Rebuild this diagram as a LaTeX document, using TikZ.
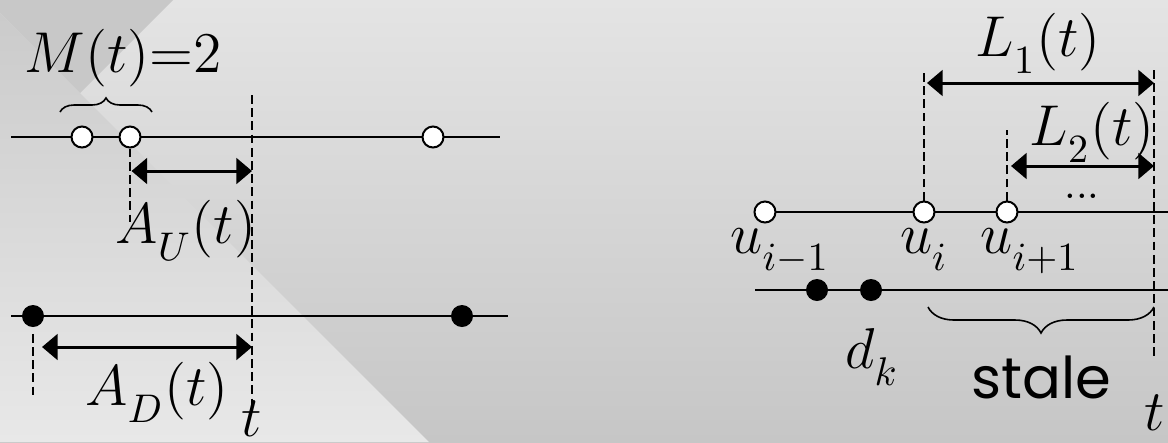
\documentclass[tikz,border=0pt]{standalone}
\usepackage{fontspec}
\newfontfamily\stalefont{Poppins}
\usetikzlibrary{arrows.meta,decorations.pathreplacing}

\definecolor{bgtop}{HTML}{E4E4E4}
\definecolor{bgbot}{HTML}{C6C6C6}
\definecolor{bgdark}{HTML}{C8C8C8}
\definecolor{wedgetop}{HTML}{CBCBCB}
\definecolor{wedgebot}{HTML}{E8E8E8}

% lowered subscript
\newcommand{\dn}[1]{_{\raisebox{-2.2pt}{$\scriptstyle #1$}}}

\begin{document}
\begin{tikzpicture}[x=0.25pt, y=-0.25pt,
    lbl/.style={font=\fontsize{14.4}{17}\selectfont, inner sep=0pt, anchor=base},
    udot/.style={circle, draw, fill=white, line width=0.5pt, minimum size=5.25pt, inner sep=0pt},
    ddot/.style={circle, fill=black, minimum size=5.5pt, inner sep=0pt},
    axisline/.style={line width=0.5pt},
    guide/.style={line width=0.42pt, dash pattern=on 2.2pt off 1.1pt},
    span/.style={line width=0.75pt, {Triangle[length=3.9pt,width=6.4pt]}-{Triangle[length=3.9pt,width=6.4pt]}},
    grp/.style={decorate, decoration={brace, amplitude=#1}, line width=0.4pt}]

    % Background
    \useasboundingbox (0,0) rectangle (1168,442);
    \shade[top color=bgtop, bottom color=bgbot] (0,0) rectangle (1168,442);
    \fill[bgdark] (0,0) -- (173,0) -- (80,93) -- (0,13) -- cycle;
    \shade[top color=wedgetop, bottom color=wedgebot] (0,13) -- (429,442) -- (0,442) -- cycle;

    % --- Left: age of updates and decisions ---

    % Define the two time lines
    \coordinate (UL) at (11,137);
    \coordinate (UR) at (500,137);
    \coordinate (DL) at (11,316);
    \coordinate (DR) at (508,316);
    \draw[axisline] (UL) -- (UR);
    \draw[axisline] (DL) -- (DR);

    % Updates and decisions
    \node[udot] (u1) at (82,137) {};
    \node[udot] (u2) at (130,137) {};
    \node[udot] (u3) at (433,137) {};
    \node[ddot] (d1) at (33,316) {};
    \node[ddot] (d2) at (462,316) {};

    % Current time t
    \coordinate (T1) at (252,95);
    \coordinate (T2) at (252,407);
    \draw[guide] (T1) -- (T2);

    % Drop lines and ages
    \coordinate (u2foot) at (130,222);
    \coordinate (d1foot) at (33,397);
    \draw[guide] (u2.south) -- (u2foot);
    \draw[guide] ([yshift=-1.5pt]d1.south) -- (d1foot);
    \coordinate (AU1) at (131.5,171);
    \coordinate (AU2) at (252,171);
    \coordinate (AD1) at (42,347);
    \coordinate (AD2) at (252,347);
    \draw[span] (AU1) -- (AU2);
    \draw[span] (AD1) -- (AD2);

    % Brace over the pending updates
    \coordinate (B1) at (60,112);
    \coordinate (B2) at (152,112);
    \draw[grp=3.5pt] (B1) -- (B2);

    % Labels
    \node[lbl] (m) at (123,72) {$M(t){=}2$};
    \node[lbl] (au) at (186,243) {$A\dn{U}(t)$};
    \node[lbl] (ad) at (157,405) {$A\dn{D}(t)$};
    \node[lbl] (tl) at (252,436) {$t$};

    % --- Right: staleness of updates ---

    \coordinate (UL2) at (765,212);
    \coordinate (UR2) at (1168,212);
    \coordinate (DL2) at (755,290);
    \coordinate (DR2) at (1168,290);
    \draw[axisline] (UL2) -- (UR2);
    \draw[axisline] (DL2) -- (DR2);

    \node[udot] (uprev) at (765,212) {};
    \node[udot] (ucur) at (924,212) {};
    \node[udot] (unext) at (1007,212) {};
    \node[ddot] (dk1) at (817,290) {};
    \node[ddot] (dk2) at (871,290) {};

    % Current time t
    \coordinate (T3) at (1154,70);
    \coordinate (T4) at (1154,357);
    \draw[guide] (T3) -- (T4);

    % Drop lines and lengths
    \coordinate (ucurtop) at (924,70);
    \coordinate (unexttop) at (1007,130);
    \draw[guide] (ucur.north) -- (ucurtop);
    \draw[guide] (unext.north) -- (unexttop);
    \coordinate (L11) at (927,83);
    \coordinate (L12) at (1154,83);
    \coordinate (L21) at (1011,166);
    \coordinate (L22) at (1154,166);
    \draw[span] (L11) -- (L12);
    \draw[span] (L21) -- (L22);

    % Brace under the stale interval
    \coordinate (S1) at (1154,307);
    \coordinate (S2) at (928,307);
    \draw[grp=6.5pt] (S1) -- (S2);

    % Labels
    \node[lbl] (l1) at (1038,56) {$L\dn{1}(t)$};
    \node[lbl] (l2) at (1092,145) {$L\dn{2}(t)$};
    \node[lbl, font=\fontsize{10.5}{12}\selectfont] (more) at (1082,198) {...};
    \node[lbl] (nprev) at (780,253) {$u\dn{i-1}$};
    \node[lbl] (ncur) at (924,253) {$u\dn{i}$};
    \node[lbl] (nnext) at (1030,253) {$u\dn{i+1}$};
    \node[lbl] (nd) at (872,368) {$d\dn{k}$};
    \node[lbl, font=\fontsize{14.4}{17}\stalefont] (stale) at (1041,398) {stale};
    \node[lbl] (tr) at (1155,430) {$t$};

\end{tikzpicture}
\end{document}
